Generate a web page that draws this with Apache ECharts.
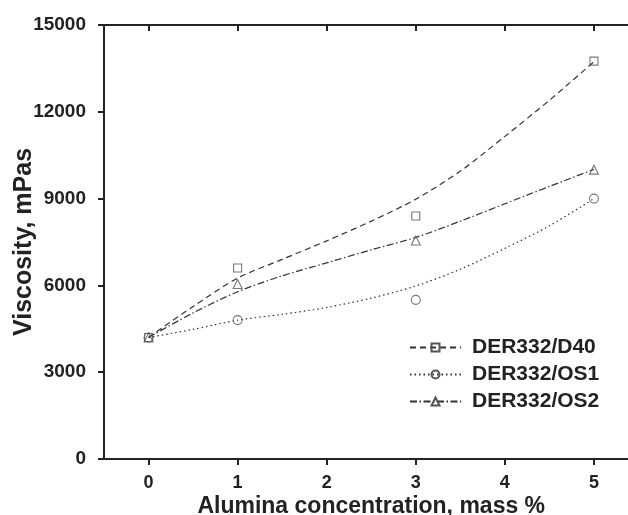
<!DOCTYPE html>
<html>
<head>
<meta charset="utf-8">
<title>Viscosity vs alumina concentration</title>
<script src="https://cdn.jsdelivr.net/npm/echarts@6/dist/echarts.min.js"></script>
<style>
  html, body { margin: 0; padding: 0; background: #fff; }
  #chart { width: 628px; height: 515px; }
</style>
</head>
<body>
<div id="chart"></div>
<script>
// Series names
const seriesNames = ['DER332/D40', 'DER332/OS1', 'DER332/OS2'];

// Measured points (alumina mass %, viscosity mPas)
const concMeasured = [0, 1, 3, 5];
const d40Measured = [4200, 6600, 8400, 13750];
const os1Measured = [4200, 4800, 5500, 9000];
const os2Measured = [4200, 6050, 7550, 10000];

// Fitted trend curves, sampled along the concentration range
const concCurve = [0, 0.5, 1, 1.5, 2, 2.5, 3, 3.5, 4, 4.5, 5];
const d40Curve = [4200, 5270, 6250, 6900, 7540, 8220, 8980, 9950, 11150, 12400, 13730];
const os1Curve = [4200, 4480, 4800, 5000, 5240, 5560, 5980, 6560, 7280, 8060, 9000];
const os2Curve = [4200, 5050, 5780, 6330, 6780, 7230, 7660, 8220, 8820, 9420, 10010];

// Axis ticks
const xTicks = [0, 1, 2, 3, 4, 5];
const yTicks = [0, 3000, 6000, 9000, 12000, 15000];

const FONT = '"Liberation Sans", Arial, sans-serif';
const INK = '#222';
const LINE = '#333';
const MARK = '#555';

const dashes = [[6, 4], [1.5, 3], [7, 2.5, 1.5, 2.5]];
const symbols = ['rect', 'circle', 'triangle'];
const curves = [d40Curve, os1Curve, os2Curve];
const measured = [d40Measured, os1Measured, os2Measured];

const zip = (xs, ys) => xs.map((x, i) => [x, ys[i]]);

const series = [];
seriesNames.forEach((name, i) => {
  series.push({
    name: name,
    type: 'line',
    data: zip(concCurve, curves[i]),
    smooth: 0.3,
    showSymbol: false,
    symbol: symbols[i],
    symbolSize: 8,
    lineStyle: { color: LINE, width: 1.2, type: dashes[i] },
    itemStyle: { color: 'transparent', borderColor: MARK, borderWidth: 1.1 },
    emphasis: { disabled: true },
    silent: true,
    z: 2
  });
});
seriesNames.forEach((name, i) => {
  series.push({
    name: name,
    type: 'scatter',
    data: zip(concMeasured, measured[i]),
    symbol: symbols[i],
    symbolSize: i === 0 ? 8 : 9,
    itemStyle: { color: 'transparent', borderColor: MARK, borderWidth: 1.1 },
    emphasis: { disabled: true },
    silent: true,
    z: 3
  });
});

const chart = echarts.init(document.getElementById('chart'), null, { renderer: 'canvas' });
chart.setOption({
  backgroundColor: '#fff',
  animation: false,
  grid: {
    left: 104, top: 25, right: -10.5, bottom: 56,
    containLabel: false, outerBoundsMode: 'none'
  },
  legend: {
    data: seriesNames,
    orient: 'vertical',
    left: 409,
    top: 337,
    padding: 0,
    itemWidth: 51,
    itemHeight: 10,
    itemGap: 6,
    selectedMode: false,
    textStyle: {
      fontFamily: FONT, fontSize: 21, fontWeight: 'bold', color: INK,
      lineHeight: 21, padding: [0, 0, 0, 6]
    }
  },
  xAxis: [
    {
      type: 'value',
      position: 'bottom',
      min: -0.5,
      max: 5.5,
      axisLine: { show: true, onZero: false, lineStyle: { color: INK, width: 2 } },
      axisTick: { show: true, customValues: xTicks, inside: false, length: 6, lineStyle: { color: INK, width: 2 } },
      axisLabel: { customValues: xTicks, margin: 15, fontFamily: FONT, fontSize: 18, fontWeight: 'bold', color: INK },
      splitLine: { show: false },
      name: 'Alumina concentration, mass %',
      nameLocation: 'middle',
      nameMoveOverlap: false,
      nameGap: 36,
      nameTextStyle: { fontFamily: FONT, fontSize: 23, fontWeight: 'bold', color: INK }
    },
    {
      type: 'value',
      position: 'top',
      min: -0.5,
      max: 5.5,
      axisLine: { show: true, onZero: false, lineStyle: { color: INK, width: 2 } },
      axisTick: { show: true, customValues: xTicks, inside: true, length: 6, lineStyle: { color: INK, width: 2 } },
      axisLabel: { show: false },
      splitLine: { show: false }
    }
  ],
  yAxis: {
    type: 'value',
    min: 0,
    max: 15000,
    interval: 3000,
    axisLine: { show: true, onZero: false, lineStyle: { color: INK, width: 2 } },
    axisTick: { show: true, customValues: yTicks, inside: false, length: 6, lineStyle: { color: INK, width: 2 } },
    axisLabel: {
      customValues: yTicks, margin: 18, fontFamily: FONT, fontSize: 19, fontWeight: 'bold', color: INK,
      formatter: (v) => String(v)
    },
    splitLine: { show: false },
    name: 'Viscosity, mPas',
    nameLocation: 'middle',
    nameRotate: 90,
    nameMoveOverlap: false,
    nameGap: 67,
    nameTextStyle: { fontFamily: FONT, fontSize: 25, fontWeight: 'bold', color: INK }
  },
  series: series
});
</script>
</body>
</html>
